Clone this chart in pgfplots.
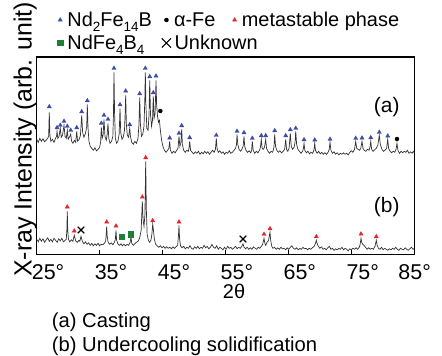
\documentclass[border=0pt]{standalone}
\usepackage{fontspec}
\setmainfont{Liberation Sans}
\usepackage{pgfplots}
\pgfplotsset{compat=1.18}
\definecolor{ndblue}{HTML}{3D4DA6}
\definecolor{mred}{HTML}{E8242C}
\definecolor{ngreen}{HTML}{1F7F3A}
\definecolor{trace}{HTML}{333333}
\newcommand{\sub}[1]{\raisebox{-5bp}{\fontsize{13.5}{14}\selectfont #1}}
\begin{document}
\begin{tikzpicture}
\useasboundingbox (0,0) rectangle (442bp,356bp);
\begin{axis}[
  at={(36.7bp,101.7bp)}, anchor=south west,
  scale only axis, width=377.6bp, height=197.3bp,
  xmin=25, xmax=85, ymin=0, ymax=197.3,
  xtick={25,35,45,55,65,75,85},
  xticklabels={25°,35°,45°,55°,65°,75°,\kern-11bp 85°},
  /pgf/number format/assume math mode=true,
  xtick pos=left, ytick=\empty,
  tick align=inside, major tick length=4bp,
  tick style={black, line width=0.8bp},
  axis line style={black, line width=1.1bp},
  xticklabel style={anchor=base west, inner sep=0pt, xshift=-5bp, yshift=-25bp, font=\fontsize{21.5}{24}\selectfont},
  xlabel={2θ},
  xlabel style={at={(axis description cs:0.5226,0)}, anchor=base, inner sep=0pt, yshift=-44bp, font=\fontsize{20}{24}\selectfont},
  clip=false,
  legend columns=3,
  legend style={at={(axis description cs:0.0511,1.2281)}, anchor=north west, draw=none, fill=none,
    inner sep=0pt, outer sep=0pt, row sep=0pt, column sep=0pt,
    font=\fontsize{20}{23}\selectfont,
    nodes={inner sep=0pt, outer sep=0pt, text height=15bp, text depth=8bp},
    cells={anchor=base west},
    /tikz/every odd column/.append style={column sep=3bp},
    /tikz/every even column/.append style={column sep=10bp}},
  legend image code/.code={\path (-4bp,0bp) (4bp,0bp); \draw[#1] plot coordinates {(0bp,7bp)};},
]
% trace (a) casting
\addplot[forget plot, trace, line width=0.7bp] coordinates {
(25.00,115)(25.25,112)(25.50,116)(25.75,113)(26.00,115.5)(26.25,112.5)(26.50,114)(26.75,116)(26.90,118)(27.00,142)(27.10,119)(27.25,113)(27.50,115)(27.75,112)(28.00,116)(28.15,118)(28.23,123)(28.35,116)(28.55,118)(28.75,126)(28.90,117)(29.10,119)(29.34,129)(29.50,118)(29.70,116)(29.86,124)(30.00,115)(30.20,117)(30.40,120)(30.55,113)(30.75,111)(31.00,114)(31.20,112)(31.36,123)(31.50,113)(31.75,115)(31.95,119)(32.15,139)(32.30,122)(32.50,117)(32.75,121)(32.95,128)(33.04,150)(33.15,127)(33.30,113)(33.50,108)(33.75,106)(34.00,104)(34.25,106.5)(34.50,103.5)(34.75,105)(35.00,107)(35.15,112)(35.27,127)(35.40,116)(35.55,119)(35.69,135)(35.85,118)(36.05,114)(36.20,120)(36.33,131)(36.45,116)(36.65,111)(36.90,113)(37.10,118)(37.20,140)(37.28,182)(37.38,140)(37.50,116)(37.70,111)(37.90,113)(38.10,120)(38.24,146)(38.35,122)(38.55,115)(38.75,117)(38.95,124)(39.05,140)(39.14,159)(39.25,130)(39.40,119)(39.60,117)(39.78,126)(39.90,118)(40.10,112)(40.35,110)(40.60,113)(40.85,111)(41.10,116)(41.25,130)(41.37,157)(41.48,130)(41.65,118)(41.85,120)(42.05,128)(42.18,155)(42.26,182)(42.35,150)(42.50,126)(42.70,124)(42.85,140)(42.96,174)(43.08,140)(43.25,128)(43.40,134)(43.53,158)(43.65,136)(43.80,140)(43.90,160)(43.96,174)(44.05,150)(44.20,138)(44.35,132)(44.50,134)(44.65,124)(44.85,114)(45.05,108)(45.30,104)(45.55,102)(45.80,104)(46.00,106)(46.13,113)(46.25,104)(46.50,101)(46.75,103)(47.00,101.5)(47.25,104)(47.45,106)(47.61,118)(47.75,108)(47.92,112)(48.04,125)(48.15,110)(48.35,104)(48.60,102)(48.85,104)(49.10,103)(49.20,106)(49.31,113)(49.45,104)(49.70,102)(49.95,100.5)(50.20,102.5)(50.45,101)(50.70,103)(50.95,100)(51.20,102)(51.45,100.5)(51.70,103)(51.95,101)(52.20,102.5)(52.45,100)(52.70,102)(52.95,104)(53.20,102)(53.40,105)(53.54,116)(53.65,106)(53.85,102)(54.10,103.5)(54.35,101)(54.60,102.5)(54.85,100)(55.10,102)(55.35,101)(55.60,103.5)(55.85,101)(56.10,102)(56.35,104)(56.60,106)(56.75,110)(56.83,120)(56.95,110)(57.15,105)(57.40,103)(57.60,105)(57.80,108)(57.94,118)(58.05,108)(58.25,104)(58.50,102)(58.75,103.5)(59.00,101.5)(59.15,104)(59.26,113)(59.40,104)(59.65,101)(59.90,103)(60.15,101.5)(60.40,104)(60.55,107)(60.69,115)(60.82,106)(61.00,105)(61.20,107)(61.39,115)(61.52,106)(61.75,103)(62.00,101)(62.25,103)(62.50,102)(62.70,107)(62.82,120)(62.95,108)(63.15,104)(63.40,102)(63.65,103.5)(63.90,101.5)(64.15,103)(64.40,105)(64.57,115)(64.70,105)(64.90,103)(65.10,106)(65.30,121)(65.45,108)(65.65,105)(65.90,107)(66.05,112)(66.16,123)(66.30,110)(66.50,105)(66.75,103)(67.00,101)(67.25,103)(67.38,106)(67.48,111)(67.60,104)(67.85,101.5)(68.10,103)(68.35,100.5)(68.60,102)(68.85,101)(69.05,104)(69.18,111)(69.30,104)(69.55,101)(69.80,103)(70.05,100.5)(70.30,102)(70.55,100)(70.80,101.5)(71.05,100)(71.30,102)(71.48,105)(71.61,112)(71.75,104)(72.00,101)(72.25,102.5)(72.50,100)(72.75,101.5)(73.00,99.5)(73.25,101)(73.50,100)(73.75,101.5)(74.00,100)(74.25,101)(74.50,99.5)(74.75,102)(75.00,103.5)(75.25,102)(75.50,105)(75.69,113)(75.85,106)(76.05,105)(76.30,104)(76.50,106)(76.69,113)(76.85,106)(77.05,104)(77.30,103)(77.55,105)(77.80,104)(77.95,107)(78.08,113)(78.22,105)(78.45,103)(78.70,104.5)(78.95,106)(79.20,109)(79.44,119)(79.60,110)(79.85,105)(80.10,103)(80.35,104)(80.60,106)(80.78,115)(80.92,106)(81.15,103)(81.40,101.5)(81.65,103)(81.90,102)(82.10,105)(82.25,111)(82.40,104)(82.65,101)(82.90,103)(83.15,101.5)(83.40,103)(83.65,102)(83.90,104)(84.15,101)(84.40,102.5)(84.65,101)(84.85,103)(85.00,101.5)
};
% trace (b) undercooling solidification
\addplot[forget plot, trace, line width=0.7bp] coordinates {
(25.00,15)(25.25,12.5)(25.50,16)(25.75,13)(26.00,15.5)(26.25,12)(26.50,14.5)(26.75,16.5)(27.00,13)(27.25,15)(27.50,12.5)(27.75,16)(28.00,14)(28.25,12)(28.50,15.5)(28.75,13.5)(29.00,16)(29.25,12.5)(29.50,14)(29.70,15)(29.80,25)(29.86,43)(29.93,24)(30.05,15)(30.25,12.5)(30.50,14.5)(30.75,13)(30.97,19)(31.20,13.5)(31.45,12)(31.70,14)(31.85,13)(32.04,18)(32.25,13)(32.50,10.5)(32.75,12.5)(33.00,10)(33.25,11.5)(33.50,9)(33.75,11)(34.00,8.5)(34.25,10.5)(34.50,9)(34.75,11)(35.00,8.5)(35.25,10)(35.50,9.5)(35.75,11)(35.95,13)(36.05,20)(36.12,28)(36.20,18)(36.35,12)(36.60,10)(36.85,11.5)(37.10,9.5)(37.35,12)(37.50,15)(37.60,24)(37.70,14)(37.90,10.5)(38.15,9)(38.40,10.5)(38.60,8.5)(38.85,10)(39.10,8.5)(39.35,10)(39.60,9)(39.85,12)(39.98,17.5)(40.10,11)(40.35,9)(40.60,10.5)(40.85,12)(41.10,13)(41.35,16)(41.60,24)(41.78,53)(41.90,35)(42.05,28)(42.20,40)(42.32,93)(42.42,45)(42.55,20)(42.75,14)(42.95,12)(43.15,14)(43.30,20)(43.43,30)(43.55,24)(43.70,15)(43.90,10)(44.15,8.5)(44.40,7)(44.65,8.5)(44.90,6.5)(45.15,8)(45.40,6)(45.65,7.5)(45.90,6)(46.15,7)(46.40,5.5)(46.65,7.5)(46.90,6)(47.15,7.5)(47.40,9)(47.52,18)(47.61,29)(47.70,16)(47.85,8.5)(48.10,6.5)(48.35,8)(48.60,5.5)(48.85,7)(49.10,6)(49.35,8.5)(49.60,6)(49.85,5)(50.10,7.5)(50.35,6)(50.60,8)(50.85,5.5)(51.10,7)(51.35,6)(51.60,9)(51.85,6.5)(52.10,8)(52.35,5.5)(52.60,7)(52.85,10)(53.10,7)(53.35,6)(53.60,8.5)(53.85,5)(54.10,7)(54.35,6)(54.60,4.5)(54.85,7)(55.10,5)(55.35,8)(55.60,6)(55.85,7)(56.10,5)(56.35,6.5)(56.60,8)(56.85,5.5)(57.10,7)(57.35,6)(57.60,8)(57.78,10.5)(57.95,7)(58.20,5.5)(58.45,7)(58.70,5)(58.95,6.5)(59.20,5)(59.45,7.5)(59.70,6)(59.95,5)(60.20,7)(60.45,6)(60.70,8)(60.90,10)(61.05,14)(61.12,16)(61.25,11)(61.40,9)(61.60,12)(61.85,14)(62.00,20)(62.07,22)(62.18,14)(62.35,8)(62.55,6)(62.80,7)(63.05,5)(63.30,6.5)(63.55,5)(63.80,7)(64.05,5.5)(64.30,6)(64.55,4.5)(64.80,6.5)(65.05,5)(65.30,7)(65.55,8.5)(65.80,6)(66.05,5)(66.30,6.5)(66.55,4.5)(66.80,6)(67.05,5)(67.30,7)(67.55,5.5)(67.80,6)(68.05,4.5)(68.30,6)(68.55,5)(68.80,6.5)(69.10,8)(69.30,11)(69.43,14)(69.55,11)(69.75,8)(70.00,6)(70.25,7.5)(70.50,5)(70.75,6)(71.00,4.5)(71.25,6.5)(71.50,8)(71.75,5)(72.00,6)(72.25,4)(72.50,5.5)(72.75,4.5)(73.00,6)(73.25,5)(73.50,7)(73.75,4.5)(74.00,6)(74.25,5)(74.50,3.5)(74.75,5.5)(75.00,4.5)(75.25,6)(75.50,5)(75.75,6.5)(76.00,5)(76.25,7)(76.40,10)(76.53,16)(76.65,12)(76.80,10)(77.00,9)(77.25,7)(77.50,5)(77.75,6.5)(78.00,5)(78.25,6)(78.50,5)(78.75,8)(78.96,14)(79.10,9)(79.30,6)(79.55,5)(79.80,7)(80.05,4.5)(80.30,6)(80.55,5)(80.80,4)(81.05,5.5)(81.30,4.5)(81.55,6)(81.80,5)(82.05,7)(82.30,5)(82.55,4)(82.80,6)(83.05,5)(83.30,4.5)(83.55,6.5)(83.80,5)(84.05,4)(84.30,5.5)(84.55,7)(84.80,5)(85.00,6)
};
% Nd2Fe14B
\addplot[only marks, mark=triangle*, mark size=2.4bp, color=ndblue] coordinates {
(27.0,147.6)(28.23,126.6)(28.75,129)(29.34,133)(29.86,128)(30.40,124)(31.36,126.6)(32.15,142.6)(33.04,153.6)(35.27,131)(35.69,139)(36.33,135)(37.28,186)(38.24,149.6)(39.14,163.3)(39.78,129.6)(41.37,160.6)(42.26,186)(42.96,177.6)(43.53,161.6)(43.96,178.3)(46.13,116.3)(47.61,121)(48.04,128.6)(49.31,116.6)(53.54,119)(56.83,123)(57.94,121.6)(59.26,116)(60.69,118.6)(61.39,118.6)(62.82,123.6)(64.57,118.6)(65.30,124.6)(66.16,126)(67.48,114.6)(69.18,114.3)(71.61,115)(75.69,116)(76.69,116.3)(78.08,116.6)(79.44,122)(80.78,118.3)
};
\addlegendentry{Nd\sub{2}Fe\sub{14}B}
% alpha-Fe
\addplot[only marks, mark=*, mark size=2bp, color=black] coordinates {(44.64,143.3)(82.25,115.3)};
\addlegendentry{α-Fe\hspace*{5bp}}
% metastable
\addplot[only marks, mark=triangle*, mark size=2.4bp, color=mred] coordinates {
(29.86,47.3)(30.97,23.3)(36.12,32.3)(37.60,28.3)(41.78,57.3)(42.32,96.6)(43.43,33.6)(47.61,32.3)(61.12,20)(62.07,25.6)(69.43,17.6)(76.53,20.3)(78.96,17.6)
};
\addlegendentry{metastable phase}
% NdFe4B4
\addplot[only marks, mark=square*, mark size=2.6bp, color=ngreen] coordinates {(38.51,17.6)(39.98,20)};
\addlegendentry{NdFe\sub{4}B\sub{4}}
% Unknown
\addplot[only marks, mark=x, mark size=4.6bp, color=black, line width=1.1bp,
  legend image code/.code={\path (-4bp,0bp) (4bp,0bp); \draw[black, line width=1bp, mark=x, mark size=6.5bp, only marks] plot coordinates {(0bp,7bp)};}] coordinates {(32.04,24.3)(57.78,15.3)};
\addlegendentry{\makebox[0pt][l]{Unknown}}
\node[font=\fontsize{21}{24}\selectfont, inner sep=0pt] at (axis cs:80.62,147.6) {(a)};
\node[font=\fontsize{21}{24}\selectfont, inner sep=0pt] at (axis cs:80.62,47.6) {(b)};
\end{axis}
\node[rotate=90, anchor=base west, inner sep=0pt, font=\fontsize{25}{28}\selectfont] at (31.7bp,79bp) {X-ray Intensity (arb. unit)};
\node[anchor=base west, inner sep=0pt, font=\fontsize{20.3}{24}\selectfont] at (51.7bp,28.3bp) {(a) Casting};
\node[anchor=base west, inner sep=0pt, font=\fontsize{20.3}{24}\selectfont] at (51.7bp,4.5bp) {(b) Undercooling solidification};
\end{tikzpicture}
\end{document}
